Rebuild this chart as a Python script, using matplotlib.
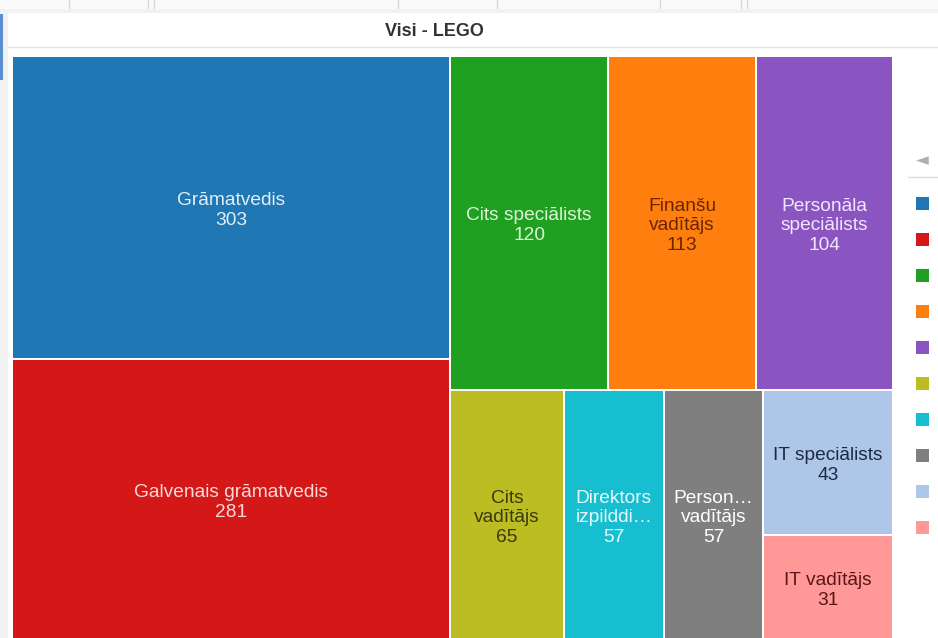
import matplotlib.pyplot as plt
from matplotlib.patches import Rectangle

plt.rcParams['font.family'] = ['Liberation Sans', 'DejaVu Sans']

labels = ["Grāmatvedis", "Galvenais grāmatvedis", "Cits speciālists", "Finanšu\nvadītājs",
          "Personāla\nspeciālists", "Cits\nvadītājs", "Direktors\nizpilddi…", "Person…\nvadītājs",
          "IT speciālists", "IT vadītājs"]
values = [303, 281, 120, 113, 104, 65, 57, 57, 43, 31]
colors = ["#1f77b4", "#d41818", "#20a020", "#ff7f0e", "#8a55c0",
          "#bcbd22", "#17becf", "#7f7f7f", "#aec7e8", "#ff9896"]
text_colors = ["#e3eef8", "#f8dada", "#dcf5d6", "#6a2400", "#f0e6ff",
               "#3a3a0a", "#e6fafd", "#ffffff", "#1e2a44", "#5a1616"]

# grouping of the treemap (indexes into the lists above)
layout = [[0, 1], [[2, 3, 4], [5, 6, 7, [8, 9]]]]


def total(node):
    if isinstance(node, list):
        return sum(total(n) for n in node)
    return values[node]


def place(node, x, y, w, h, horizontal, out):
    if not isinstance(node, list):
        out[node] = (x, y, w, h)
        return
    s = total(node)
    pos = 0
    for child in node:
        frac = total(child) / s
        if horizontal:
            place(child, x + pos * w, y, frac * w, h, not horizontal, out)
        else:
            place(child, x, y + pos * h, w, frac * h, not horizontal, out)
        pos += frac


fig = plt.figure(figsize=(9.38, 6.38), dpi=100)
fig.patch.set_facecolor("#f2f2f2")
ax = fig.add_axes([0, 0, 1, 1])
ax.set_xlim(0, 938)
ax.set_ylim(638, 0)
ax.axis("off")

# top tabs strip
ax.add_patch(Rectangle((0, 0), 938, 9, facecolor="#fafafa", edgecolor="none"))
for xs in [69, 148, 154, 398, 497, 660, 741, 747]:
    ax.plot([xs, xs], [0, 8], color="#d8d8d8", lw=1)
# panel
ax.add_patch(Rectangle((8, 13), 930, 625, facecolor="white", edgecolor="none"))
ax.plot([8, 938], [47, 47], color="#e3e3e3", lw=1)
ax.add_patch(Rectangle((0, 14), 3, 66, facecolor="#5b8fd0", edgecolor="none"))
ax.text(434, 31, "Visi - LEGO", ha="center", va="center", fontsize=13,
        fontweight="bold", color="#333333")

rects = {}
place(layout, 12, 56, 881, 584, True, rects)
for i, (x, y, w, h) in rects.items():
    ax.add_patch(Rectangle((x + 1, y + 1), w - 2, h - 2, facecolor=colors[i],
                           edgecolor="none"))
    ax.text(x + w / 2, y + h / 2 + 3, labels[i] + "\n" + str(values[i]), ha="center",
            va="center", fontsize=13.8, color=text_colors[i], linespacing=1.2)

# legend
ax.text(922, 160, "◄", ha="center", va="center", fontsize=12, color="#b0b0b0",
        family=["DejaVu Sans"])
ax.plot([908, 938], [177, 177], color="#dddddd", lw=1)
for k, c in enumerate(colors):
    ax.add_patch(Rectangle((916, 197 + 36 * k), 13, 13, facecolor=c, edgecolor="none"))

fig.savefig("out.png", dpi=100)
